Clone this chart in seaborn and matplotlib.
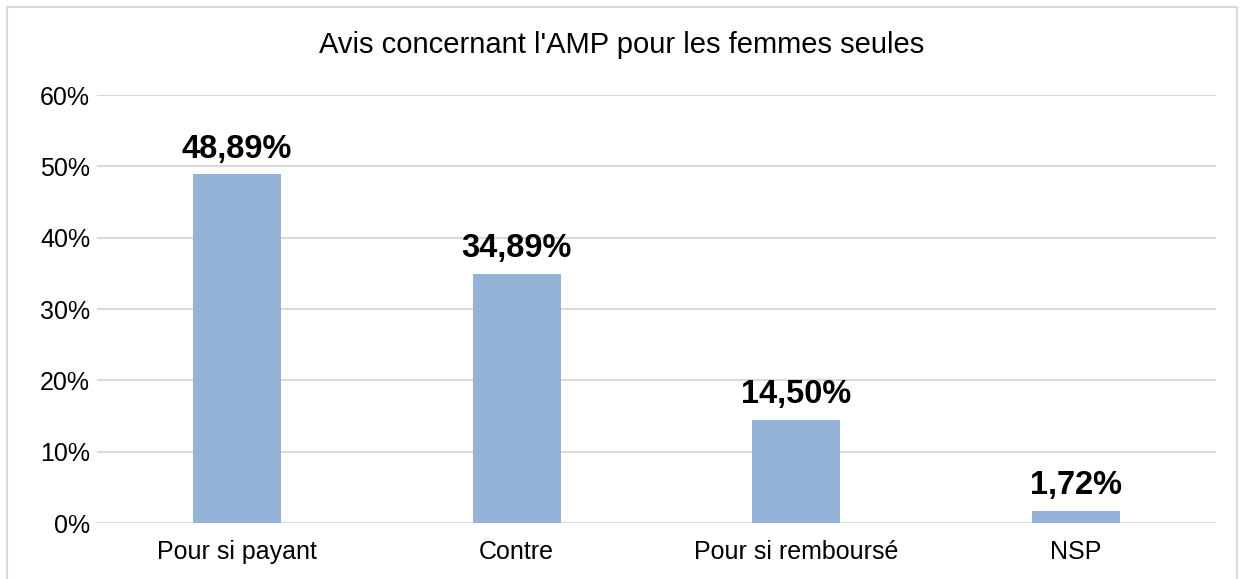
import matplotlib
matplotlib.use("Agg")
import matplotlib.pyplot as plt
import seaborn as sns
import pandas as pd
from matplotlib.patches import Rectangle
from matplotlib.ticker import FuncFormatter

categories = ["Pour si payant", "Contre", "Pour si remboursé", "NSP"]
values = [48.89, 34.89, 14.50, 1.72]
yticks = [0, 10, 20, 30, 40, 50, 60]
title = "Avis concernant l'AMP pour les femmes seules"

sns.set_theme(style="white")
plt.rcParams['font.family'] = ['Liberation Sans', 'DejaVu Sans']

df = pd.DataFrame({"cat": categories, "val": values})

fig = plt.figure(figsize=(12.44, 5.79), dpi=100)
ax = fig.add_axes([0.078, 0.0967, 0.8995, 0.7392])
sns.barplot(data=df, x="cat", y="val", color="#95B3D7", width=0.314,
            saturation=1, ax=ax, zorder=3, linewidth=0)
ax.set_xlim(-0.5, 3.5)
ax.set_ylim(0, 60)
ax.set_yticks(yticks)
ax.yaxis.set_major_formatter(FuncFormatter(lambda v, p: f"{int(v)}%"))
ax.grid(axis="y", color="#D9D9D9", linewidth=1.5, zorder=0)
ax.set_axisbelow(True)
for s in ax.spines.values():
    s.set_visible(False)
ax.set_xlabel("")
ax.set_ylabel("")
ax.tick_params(axis="both", length=0, labelsize=18, colors="black")
ax.tick_params(axis="y", pad=5)
ax.tick_params(axis="x", pad=12)
for i, v in enumerate(values):
    ax.annotate(f"{v:.2f}%".replace(".", ","), (i, v), xytext=(0, 7),
                textcoords="offset points", ha="center", va="bottom",
                fontsize=23.5, fontweight="bold", color="black")
fig.text(0.5, 0.922, title, ha="center", va="center", fontsize=21, color="black")
fig.patches.append(Rectangle((7/1244, -0.05), (1237-7)/1244, 1 - 7/579 + 0.05,
                             transform=fig.transFigure, fill=False,
                             edgecolor="#D9D9D9", linewidth=1.5))
fig.savefig("out.png", dpi=100)
